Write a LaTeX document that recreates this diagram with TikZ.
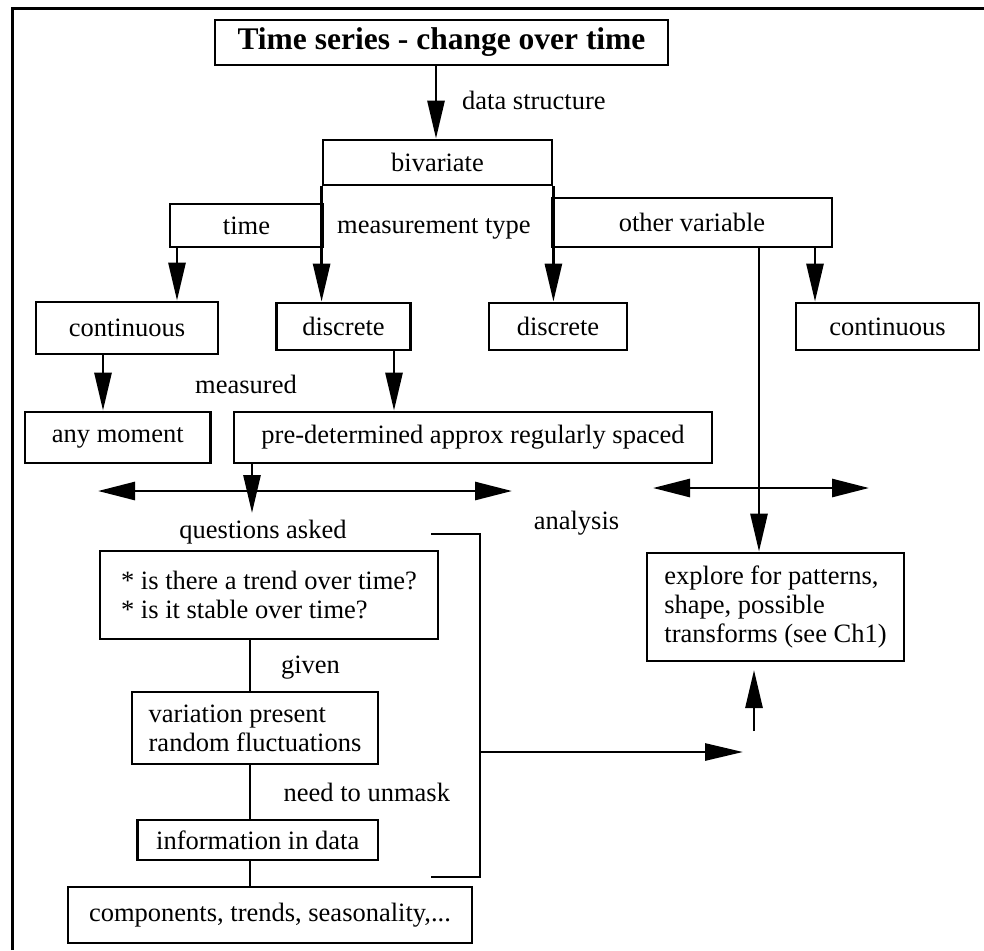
\documentclass[tikz,border=0pt]{standalone}
\usepackage{fontspec}
\setmainfont{Liberation Serif}
\usetikzlibrary{arrows.meta}
\begin{document}
\begin{tikzpicture}[x=1pt,y=-1pt,
  every node/.style={font=\fontsize{26.5}{29}\selectfont},
  box/.style={draw, line width=2.8pt, rectangle, align=left, inner sep=0pt},
  lbl/.style={inner sep=0pt},
  conn/.style={line width=2.8pt},
  arr/.style={conn, -{Triangle[length=38pt,width=17pt]}},
  dbl/.style={conn, {Triangle[length=37pt,width=18pt]}-{Triangle[length=37pt,width=18pt]}},
]
\useasboundingbox (0,0) rectangle (984,950);

% outer frame (top and left edges)
\draw[line width=3pt] (12,950) -- (12,9) -- (984,9);

% boxes
\node[box, font=\fontsize{31.5}{36}\selectfont\bfseries, minimum width=453pt, minimum height=45pt] (title) at (441.5,42.5) {Time series - change over time};
\node[box, minimum width=229pt, minimum height=45pt] (biv) at (437.5,162.5) {bivariate};
\node[box, minimum width=153pt, minimum height=43pt] (time) at (246.5,225.5) {time};
\node[box, minimum width=280pt, minimum height=49pt] (other) at (692,222.5) {other variable};
\node[box, minimum width=182pt, minimum height=52pt] (cont1) at (127,328) {continuous};
\node[box, minimum width=134pt, minimum height=47pt] (disc1) at (343.5,326.5) {discrete};
\node[box, minimum width=138pt, minimum height=47pt] (disc2) at (558,326.5) {discrete};
\node[box, minimum width=183pt, minimum height=47pt] (cont2) at (887.5,326.5) {continuous};
\node[box, minimum width=185.5pt, minimum height=51pt] (any) at (117.75,437.5) {any moment};
\node[box, minimum width=478pt, minimum height=51pt] (pre) at (473,437.5) {pre-determined approx regularly spaced};
\node[box, minimum width=257pt, minimum height=108pt] (explore) at (775.5,607) {explore for patterns,\\shape, possible\\transforms (see Ch1)};
\node[box, minimum width=338pt, minimum height=88pt] (quest) at (269,595) {* is there a trend over time?\\* is it stable over time?};
\node[box, minimum width=246pt, minimum height=72pt] (var) at (255,728) {variation present\\random fluctuations};
\node[box, minimum width=240.5pt, minimum height=40pt] (info) at (257.75,840) {information in data};
\node[box, minimum width=404pt, minimum height=56pt] (comp) at (270,915) {components, trends, seasonality,...};

% connector labels
\node[lbl, anchor=west] (dstruct) at (462,100) {data structure};
\node[lbl, anchor=west] (mtype) at (337,229) {measurement type};
\node[lbl] (measured) at (246,384) {measured};
\node[lbl] (qasked) at (263,532) {questions asked};
\node[lbl] (analysis) at (576.5,523) {analysis};
\node[lbl] (given) at (310.5,668) {given};
\node[lbl, anchor=west] (unmask) at (283.5,792) {need to unmask};

% free ends of connectors
\coordinate (qtip) at (252,513);
\coordinate (dl) at (98,491);
\coordinate (dr) at (512,491);
\coordinate (el) at (653,488);
\coordinate (er) at (869,488);
\coordinate (bt) at (431,534);
\coordinate (bb) at (431,877);
\coordinate (bm) at (480,752);
\coordinate (btip) at (743,752);
\coordinate (ubot) at (754,731);
\coordinate (utop) at (754,670);

% connectors
\draw[arr] (title.south -| 436,0) -- (biv.north -| 436,0);
\draw[arr] (biv.south west) -- (biv.south west |- disc1.north);
\draw[arr] (biv.south east) -- (biv.south east |- disc2.north);
\draw[arr] (time.south -| 177,0) -- (cont1.north -| 177,0);
\draw[arr] (other.south -| 815,0) -- (cont2.north -| 815,0);
\draw[arr] (other.south -| 759,0) -- (explore.north -| 759,0);
\draw[arr] (cont1.south -| 103,0) -- (any.north -| 103,0);
\draw[arr] (disc1.south -| 394,0) -- (pre.north -| 394,0);
\draw[arr] (pre.south -| qtip) -- (qtip);
\draw[dbl] (dl) -- (dr);
\draw[dbl] (el) -- (er);
\draw[conn] (quest.south -| 250,0) -- (var.north -| 250,0);
\draw[conn] (var.south -| 250,0) -- (info.north -| 250,0);
\draw[conn] (info.south -| 250,0) -- (comp.north -| 250,0);
\draw[conn] (bt) -- (bt -| bm) -- (bb -| bm) -- (bb);
\draw[arr] (bm) -- (btip);
\draw[arr] (ubot) -- (utop);
\end{tikzpicture}
\end{document}
